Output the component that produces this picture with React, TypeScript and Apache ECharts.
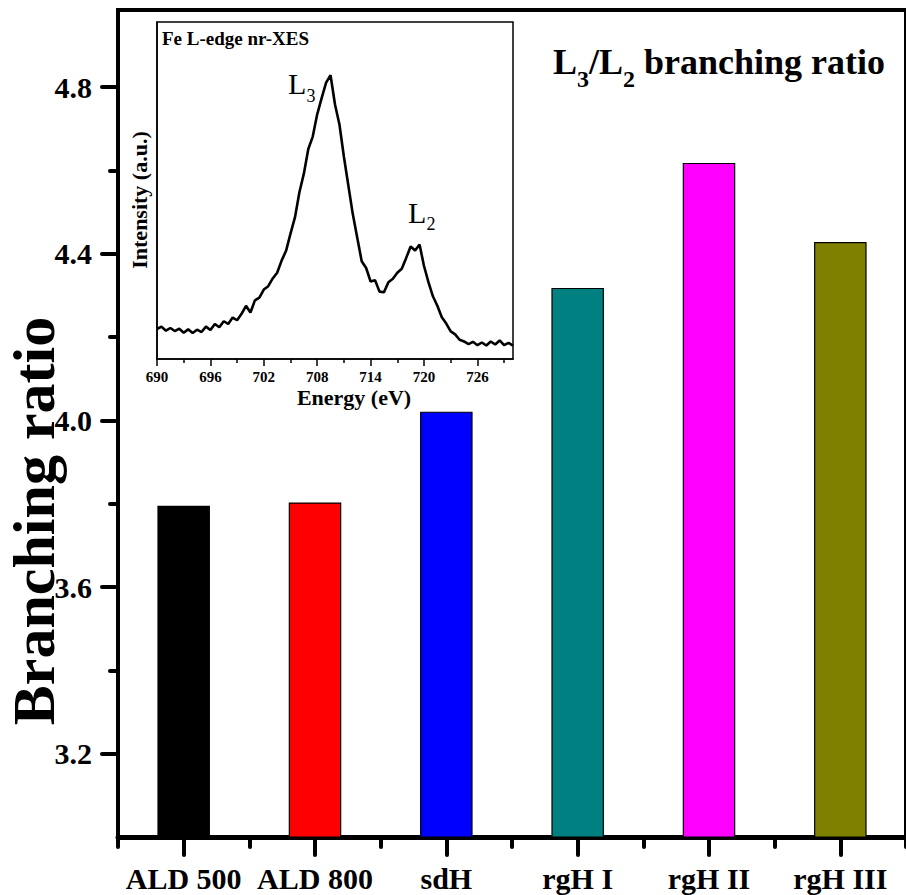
import React, { useEffect, useRef } from "react";
import * as echarts from "echarts";

const categories = ["ALD 500", "ALD 800", "sdH", "rgH I", "rgH II", "rgH III"];
const ratioValues = [3.795, 3.803, 4.021, 4.318, 4.618, 4.428];
const barColors = ["#000000", "#FF0000", "#0000FF", "#008080", "#FF00FF", "#808000"];
const yMajorTicks = [3.2, 3.6, 4.0, 4.4, 4.8];
const yMinorTicks = [3.4, 3.8, 4.2, 4.6];

const insetMajorTicks = [690, 696, 702, 708, 714, 720, 726];
const insetMinorTicks = [693, 699, 705, 711, 717, 723, 729];
const energy = [
  690, 690.5, 691, 691.5, 692, 692.5, 693, 693.5, 694, 694.5, 695, 695.5, 696, 696.5, 697, 697.5,
  698, 698.5, 699, 699.5, 700, 700.5, 701, 701.5, 702, 702.5, 703, 703.5, 704, 704.5, 705, 705.5,
  706, 706.5, 707, 707.5, 708, 708.5, 709, 709.5, 710, 710.5, 711, 711.5, 712, 712.5, 713, 713.5,
  714, 714.5, 715, 715.5, 716, 716.5, 717, 717.5, 718, 718.5, 719, 719.5, 720, 720.5, 721, 721.5,
  722, 722.5, 723, 723.5, 724, 724.5, 725, 725.5, 726, 726.5, 727, 727.5, 728, 728.5, 729, 729.5, 730,
];
const intensity = [
  8.9, 9.6, 8.4, 9.2, 8.3, 9.0, 7.8, 8.8, 7.7, 8.7, 8.0, 9.6, 8.6, 10.4, 9.4, 11.2,
  10.4, 12.3, 11.5, 13.4, 15.8, 13.8, 17.4, 18.2, 20.6, 21.6, 23.9, 25.6, 29.2, 32.1, 37.2, 42.0,
  49.5, 55.0, 62.3, 66.0, 72.6, 77.4, 82.0, 84.2, 75.5, 69.6, 60.0, 51.5, 43.0, 36.0, 29.0, 27.0,
  23.0, 23.4, 20.0, 19.8, 22.8, 23.8, 25.6, 26.8, 30.0, 33.4, 32.2, 34.0, 27.6, 22.8, 18.6, 15.8,
  12.4, 10.5, 8.2, 7.3, 5.7, 5.2, 4.4, 5.1, 4.1, 4.9, 4.0, 5.2, 4.3, 5.5, 4.1, 4.8, 4.0,
];

const FONT = "Liberation Serif";

function txt(x: number, y: number, text: string, size: number, bold: boolean, extra: any = {}) {
  return {
    type: "text", x, y, z: 100, ...extra,
    style: {
      text, fontSize: size, fontWeight: bold ? "bold" : "normal", fontFamily: FONT, fill: "#000",
      align: extra.align || "left", verticalAlign: "middle", lineHeight: extra.lineHeight || size,
    },
  };
}

export default function App() {
  const ref = useRef<HTMLDivElement>(null);
  useEffect(() => {
    if (!ref.current) return;
    const chart = echarts.init(ref.current, null, { renderer: "svg" });
    const black = "#000";
    chart.setOption({
      animation: false,
      backgroundColor: "#fff",
      grid: [
        { left: 118, top: 10, width: 795, height: 827, show: true, borderColor: black, borderWidth: 4, backgroundColor: "transparent" },
        { left: 157, top: 22, width: 356, height: 337, show: true, borderColor: black, borderWidth: 1.5, backgroundColor: "#fff" },
      ],
      xAxis: [
        {
          gridIndex: 0, type: "category", data: categories, position: "bottom",
          axisLine: { show: true, lineStyle: { color: black, width: 5 } },
          axisTick: { show: true, alignWithLabel: true, length: 18, lineStyle: { color: black, width: 4, cap: "round" } },
          axisLabel: { fontSize: 30, fontWeight: "bold", fontFamily: FONT, color: black, margin: 26, interval: 0 },
          splitLine: { show: false },
        },
        {
          gridIndex: 0, type: "category", data: categories, position: "bottom", offset: 0,
          axisLine: { show: false },
          axisTick: { show: true, length: 10, lineStyle: { color: black, width: 4, cap: "round" } },
          axisLabel: { show: false },
          splitLine: { show: false },
        },
        {
          gridIndex: 1, type: "value", min: 690, max: 730, position: "bottom",
          axisLine: { show: true, lineStyle: { color: black, width: 1.5 } },
          axisTick: { show: true, length: 7, customValues: insetMajorTicks, lineStyle: { color: black, width: 1.5 } },
          axisLabel: { customValues: insetMajorTicks, fontSize: 15, fontWeight: "bold", fontFamily: FONT, color: black, margin: 10 },
          splitLine: { show: false },
        },
        {
          gridIndex: 1, type: "value", min: 690, max: 730, position: "bottom", offset: 0,
          axisLine: { show: false },
          axisTick: { show: true, length: 4, customValues: insetMinorTicks, lineStyle: { color: black, width: 1.5 } },
          axisLabel: { show: false },
          splitLine: { show: false },
        },
      ],
      yAxis: [
        {
          gridIndex: 0, type: "value", min: 3.0, max: 4.985, position: "left",
          axisLine: { show: true, lineStyle: { color: black, width: 4 } },
          axisTick: { show: true, length: 16, customValues: yMajorTicks, lineStyle: { color: black, width: 4, cap: "round" } },
          axisLabel: {
            customValues: yMajorTicks, formatter: (v: number) => v.toFixed(1),
            fontSize: 30, fontWeight: "bold", fontFamily: FONT, color: black, margin: 26,
          },
          splitLine: { show: false },
        },
        {
          gridIndex: 0, type: "value", min: 3.0, max: 4.985, position: "left", offset: 0,
          axisLine: { show: false },
          axisTick: { show: true, length: 8, customValues: yMinorTicks, lineStyle: { color: black, width: 4, cap: "round" } },
          axisLabel: { show: false },
          splitLine: { show: false },
        },
        {
          gridIndex: 1, type: "value", min: 0, max: 100, position: "left",
          axisLine: { show: true, lineStyle: { color: black, width: 1.5 } },
          axisTick: { show: false },
          axisLabel: { show: false },
          splitLine: { show: false },
        },
      ],
      series: [
        {
          type: "bar", xAxisIndex: 0, yAxisIndex: 0, barWidth: "40%",
          data: ratioValues.map((v, i) => ({
            value: v,
            itemStyle: { color: barColors[i], borderColor: black, borderWidth: 1.2 },
          })),
        },
        {
          type: "line", xAxisIndex: 2, yAxisIndex: 2, symbol: "none",
          lineStyle: { color: black, width: 2.6 },
          data: energy.map((e, i) => [e, intensity[i]]),
          z: 5,
        },
      ],
      graphic: [
        // main title L3/L2 branching ratio
        txt(553, 62, "L", 36, true),
        txt(577, 79, "3", 24, true),
        txt(589, 62, "/L", 36, true),
        txt(623, 79, "2", 24, true),
        txt(635, 62, " branching ratio", 36, true),
        // y-axis title
        txt(34, 521, "Branching ratio", 60, true, { rotation: Math.PI / 2, align: "center", lineHeight: 46 }),
        // inset texts
        txt(354, 397, "Energy (eV)", 22, true, { align: "center" }),
        txt(139, 200, "Intensity (a.u.)", 22, true, { rotation: Math.PI / 2, align: "center" }),
        txt(162, 38, "Fe L-edge nr-XES", 19, true),
        txt(288, 83, "L", 30, false),
        txt(306.5, 96, "3", 18, false),
        txt(408, 212, "L", 30, false),
        txt(426.5, 224, "2", 18, false),
      ],
    });
    return () => chart.dispose();
  }, []);
  return <div ref={ref} style={{ position: "absolute", left: 0, top: 0, width: 906, height: 895 }} />;
}
